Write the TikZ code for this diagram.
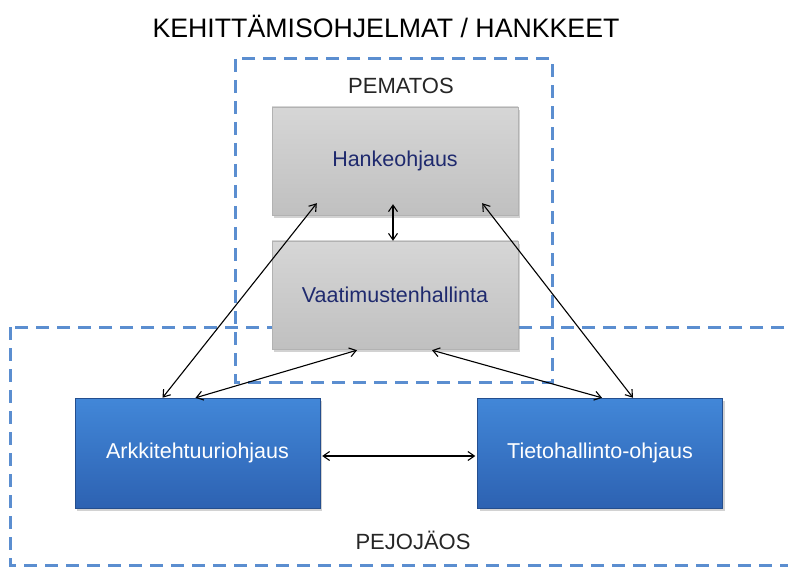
\documentclass[tikz,border=0pt]{standalone}
\usepackage{fontspec}
\setmainfont{Liberation Sans}
\usetikzlibrary{arrows.meta,calc,shadows}
\definecolor{dashblue}{HTML}{5B8ED0}
\definecolor{navytext}{HTML}{1F2A6E}
\definecolor{bluetop}{HTML}{4287D8}
\definecolor{bluebot}{HTML}{2D62B2}
\definecolor{greytop}{HTML}{D6D6D6}
\definecolor{greybot}{HTML}{C0C0C0}
\tikzset{
  frame/.style={draw=dashblue, line width=3pt, dash pattern=on 13pt off 8pt},
  greybox/.style={minimum width=246pt, minimum height=108pt, inner sep=0pt,
    top color=greytop, bottom color=greybot, draw=gray!60, line width=0.4pt,
    text=navytext, font=\fontsize{21.5}{25}\selectfont,
    drop shadow={shadow xshift=2pt, shadow yshift=-3pt, opacity=0.35}},
  bluebox/.style={minimum width=245pt, minimum height=110pt, inner sep=0pt,
    top color=bluetop, bottom color=bluebot, draw=bluebot!80!black, line width=0.4pt,
    text=white, font=\fontsize{21.5}{25}\selectfont,
    drop shadow={shadow xshift=2pt, shadow yshift=-3pt, opacity=0.35}},
  label/.style={font=\fontsize{22}{26}\selectfont, text=black!85},
  link/.style={draw=black, line width=1.1pt, {Straight Barb[length=6.5pt,width=9pt]}-{Straight Barb[length=6.5pt,width=9pt]}}
}
\begin{document}
\begin{tikzpicture}[x=1pt,y=-1pt]
\useasboundingbox (0,0) rectangle (788,567);
\fill[white] (0,0) rectangle (788,567);
\begin{scope}
\clip (0,0) rectangle (788,567);
\draw[frame] (235,59) rectangle (552,382);
\draw[frame] (10,327) rectangle (810,565);
\end{scope}
\node[font=\fontsize{26.7}{31}\selectfont] (title) at (386,26) {KEHITTÄMISOHJELMAT / HANKKEET};
\node[label] (pematos) at (401,86) {PEMATOS};
\node[label] (pejojaos) at (413,540) {PEJOJÄOS};
\node[greybox] (hanke) at (395,161) {Hankeohjaus};
\node[greybox] (vaat) at (395,295) {Vaatimustenhallinta};
\node[bluebox] (arkki) at (197.5,453) {Arkkitehtuuriohjaus};
\node[bluebox] (tieto) at (600,453) {Tietohallinto-ohjaus};
\path[link] ($(hanke.south)+(-2,-11)$) -- ($(vaat.north)+(-2,0)$);
\path[link] ($(arkki.north)+(-35,0)$) -- ($(hanke.south west)+(45,-12)$);
\path[link] ($(arkki.north)+(-2,0)$) -- ($(vaat.south)+(-38,1)$);
\path[link] ($(tieto.north)+(2,0)$) -- ($(vaat.south)+(37,1)$);
\path[link] ($(tieto.north)+(33,0)$) -- ($(hanke.south east)+(-36,-12)$);
\path[link] ($(arkki.east)+(2,3)$) -- ($(tieto.west)+(-2,3)$);
\end{tikzpicture}
\end{document}
